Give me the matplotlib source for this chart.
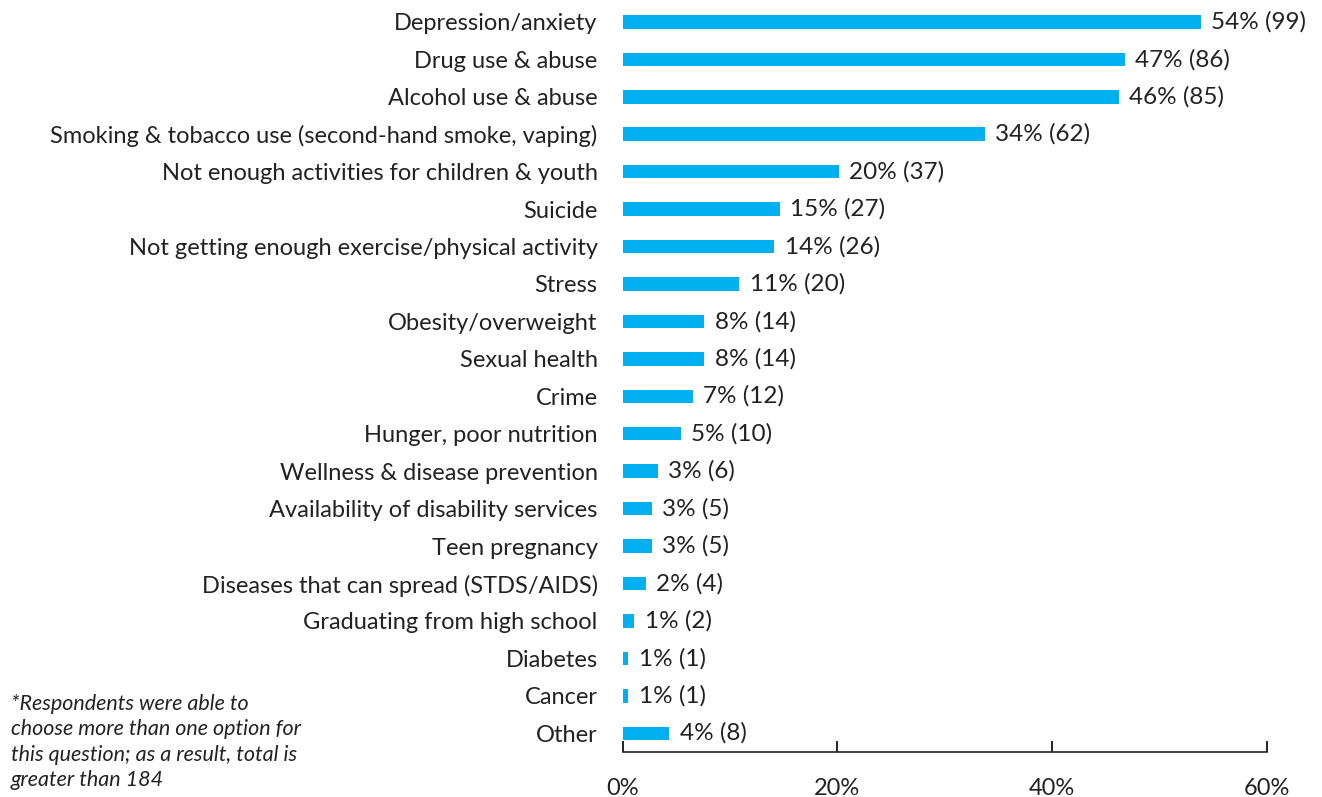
import matplotlib
matplotlib.use("Agg")
import matplotlib.pyplot as plt

plt.rcParams['font.family'] = ['Lato', 'DejaVu Sans']

categories = [
    "Depression/anxiety",
    "Drug use & abuse",
    "Alcohol use & abuse",
    "Smoking & tobacco use (second-hand smoke, vaping)",
    "Not enough activities for children & youth",
    "Suicide",
    "Not getting enough exercise/physical activity",
    "Stress",
    "Obesity/overweight",
    "Sexual health",
    "Crime",
    "Hunger, poor nutrition",
    "Wellness & disease prevention",
    "Availability of disability services",
    "Teen pregnancy",
    "Diseases that can spread (STDS/AIDS)",
    "Graduating from high school",
    "Diabetes",
    "Cancer",
    "Other",
]
counts = [99, 86, 85, 62, 37, 27, 26, 20, 14, 14, 12, 10, 6, 5, 5, 4, 2, 1, 1, 8]
pct_labels = [54, 47, 46, 34, 20, 15, 14, 11, 8, 8, 7, 5, 3, 3, 3, 2, 1, 1, 1, 4]
total = 184
xticks = [0, 20, 40, 60]

pcts = [c / total * 100 for c in counts]
ypos = list(range(len(categories)))

fig = plt.figure(figsize=(13.22, 7.97), dpi=100)
ax = fig.add_axes([0.471, 0.0565, 0.4875, 0.9395])

ax.barh(ypos, pcts, height=0.36, color="#00B0F0")
for y, v, p, c in zip(ypos, pcts, pct_labels, counts):
    ax.text(v + 0.95, y, f"{p}% ({c})", va="center", ha="left", fontsize=17.5, color="#222222")

ax.set_ylim(len(categories) - 0.5, -0.5)
ax.set_xlim(0, 60)
ax.set_yticks(ypos)
ax.set_yticklabels(categories, fontsize=17, color="#222222")
ax.tick_params(axis="y", length=0, pad=18)
ax.set_xticks(xticks)
ax.set_xticklabels([f"{t}%" for t in xticks], fontsize=17, color="#222222")
ax.tick_params(axis="x", direction="in", length=8, width=1.2, pad=19)

for s in ["top", "right", "left"]:
    ax.spines[s].set_visible(False)
ax.spines["bottom"].set_linewidth(1.2)
ax.spines["bottom"].set_color("#222222")

fig.text(0.008, 0.069, "*Respondents were able to\nchoose more than one option for\nthis question; as a result, total is\ngreater than 184",
         fontsize=15.5, style="italic", va="center", ha="left", linespacing=1.33, color="#222222")

fig.savefig("out.png", dpi=100)
